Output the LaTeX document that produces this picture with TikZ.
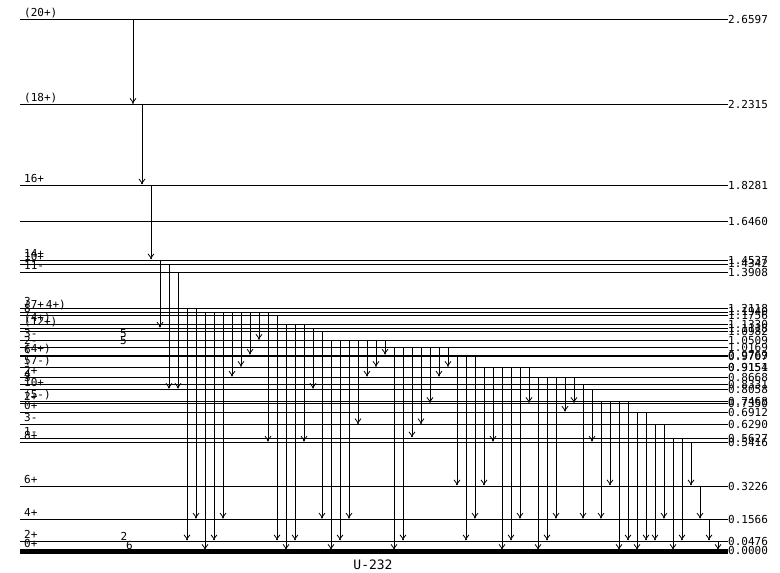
\documentclass[tikz,border=0pt]{standalone}
\usepackage{fontspec}
\newfontfamily\lbl{DejaVu Sans Mono}
\usetikzlibrary{arrows.meta,calc}
\begin{document}
\begin{tikzpicture}[x=1pt,y=-1pt,
 lev/.style={line width=0.8pt},
 gnd/.style={line width=4.6pt},
 arr/.style={line width=0.8pt,-{Straight Barb[length=4pt,width=6pt]},shorten >=1.6pt},
 elab/.style={font=\lbl\fontsize{11}{12}\selectfont,anchor=west,inner sep=0pt},
 slab/.style={font=\lbl\fontsize{11}{12}\selectfont,anchor=base west,inner sep=0pt},
 tlab/.style={font=\lbl\fontsize{11}{12}\selectfont,inner sep=0pt}]
\useasboundingbox (0,0) rectangle (780,573);
% levels
\foreach \n/\e in {26597/2.6597,22315/2.2315,18281/1.8281,16460/1.6460,14537/1.4537,14342/1.4342,13908/1.3908,
 12118/1.2118,11940/1.1940,11756/1.1756,11330/1.1330,11118/1.1118,10982/1.0982,10509/1.0509,10169/1.0169,
 09769/0.9769,09707/0.9707,09154/0.9154,09151/0.9151,08668/0.8668,08331/0.8331,08058/0.8058,
 07468/0.7468,07350/0.7350,06912/0.6912,06290/0.6290,05627/0.5627,05416/0.5416,
 03226/0.3226,01566/0.1566,00476/0.0476,00000/0.0000}{
  \coordinate (L\n) at (20,{550.6-199.87*\e});
  \node[elab] (R\n) at (728,{550.6-199.87*\e}) {\e};
}
\foreach \n in {26597,22315,18281,16460,14537,14342,13908,12118,11940,11756,11330,11118,10982,10509,10169,
 09769,09707,09154,09151,08668,08331,08058,07468,07350,06912,06290,05627,05416,03226,01566,00476}
  \draw[lev] (L\n) -- (R\n.west);
\draw[gnd] ([yshift=-0.7pt]L00000) -- ([yshift=-0.7pt]R00000.west);
% spin labels
\foreach \n/\l in {26597/(20+),22315/(18+),18281/16+,14537/14+,14342/10+,13908/11-,12118/3,11940/(7+\,4+),
 11756/8,11330/(4+),11118/(12+),10509/3-,10169/2-,09769/(4+),09707/6,09154/(7-),09151/5,08668/2+,08331/3,
 08058/10+,07468/(5-),07350/2+,06912/0+,06290/3-,05627/1-,05416/8+,03226/6+,01566/4+,00476/2+,00000/0+}
  \node[slab] (S\n) at ([xshift=4pt,yshift=3pt]L\n) {\l};
\node[slab] (S08668b) at ([xshift=4pt,yshift=6pt]L08331) {4};
% band labels
\node[tlab] (b1) at (123.5,333.5) {5};
\node[tlab] (b2) at (123.5,340.5) {5};
\node[tlab] (b3) at (124,536) {2};
\node[tlab] (b4) at (129.5,545.5) {6};
\node[font=\lbl\fontsize{13}{14}\selectfont,inner sep=0pt] (title) at (373,565) {U-232};
% columns
\foreach \i in {0,...,65} \coordinate (C\i) at ({133+9*\i},0);
\foreach \i/\a/\b in {0/26597/22315,1/22315/18281,2/18281/14537,3/14537/11118,4/14342/08058,5/13908/08058,
 6/12118/00476,7/12118/01566,8/11940/00000,9/11940/00476,10/11940/01566,11/11940/08668,12/11940/09154,
 13/11940/09769,14/11940/10509,15/11940/05416,16/11756/00476,17/11330/00000,18/11330/00476,19/11330/05416,
 20/11118/08058,21/10982/01566,22/10509/00000,23/10509/00476,24/10509/01566,25/10509/06290,26/10509/08668,
 27/10509/09154,28/10509/09769,29/10169/00000,30/10169/00476,31/10169/05627,32/10169/06290,33/10169/07350,
 34/10169/08668,35/10169/09154,36/09769/03226,37/09769/00476,38/09769/01566,39/09154/03226,40/09154/05416,
 41/09154/00000,42/09154/00476,43/09154/01566,44/09154/07350,45/08668/00000,46/08668/00476,47/08668/01566,
 48/08668/06912,49/08668/07350,50/08331/01566,51/08058/05416,52/07468/01566,53/07468/03226,54/07468/00000,
 55/07468/00476,56/06912/00000,57/06912/00476,58/06290/00476,59/06290/01566,60/05627/00000,61/05627/00476,
 62/05416/03226,63/03226/01566,64/01566/00476,65/00476/00000}{
  \draw[arr] (C\i |- L\a) -- (C\i |- L\b);
  \fill ([yshift=1.8pt]C\i |- L\b) circle (1pt);
}
\end{tikzpicture}
\end{document}
